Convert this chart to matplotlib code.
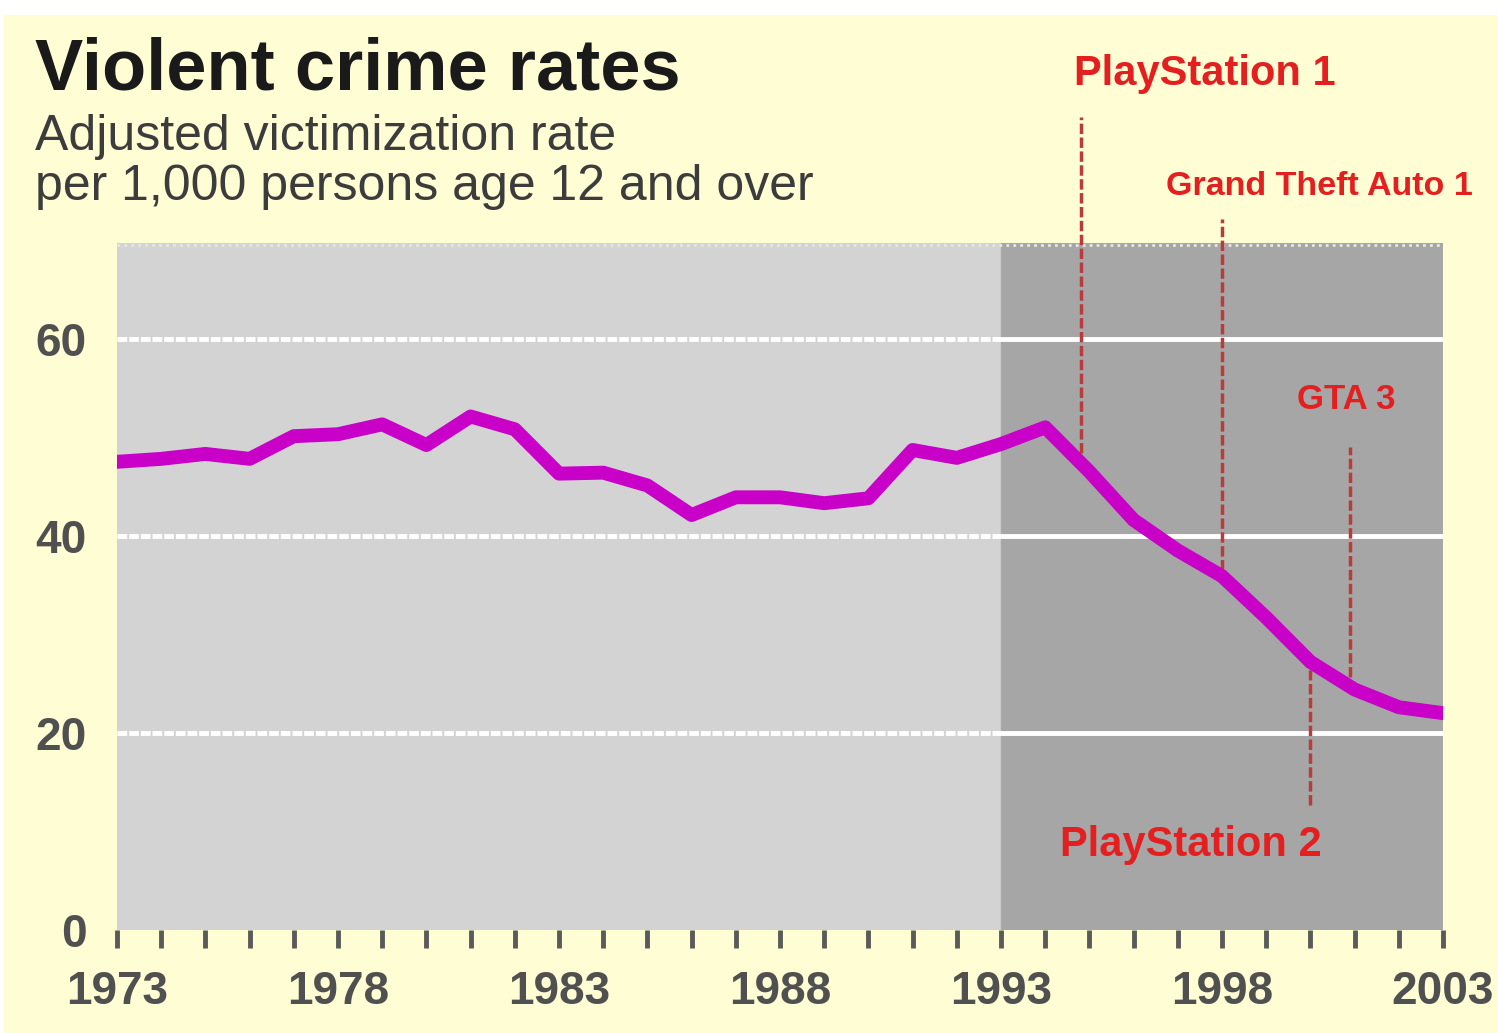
import matplotlib.pyplot as plt
from matplotlib.patches import Rectangle

# donnees
annees = list(range(1973, 2004))
taux = [47.5, 47.8, 48.3, 47.8, 50.1, 50.3, 51.3, 49.2, 52.1, 50.8, 46.3,
        46.4, 45.1, 42.1, 43.9, 43.9, 43.3, 43.8, 48.7, 47.9, 49.3, 51.0,
        46.5, 41.6, 38.5, 35.9, 31.7, 27.2, 24.4, 22.6, 22.0]

ticks_labels = [1973, 1978, 1983, 1988, 1993, 1998, 2003]
y_ticks = [0, 20, 40, 60]

# evenements : nom, annee de la ligne, haut, bas, position du texte, taille
evenements = [
    ("PlayStation 1", 1994.8, 82.5, 48.4, 1997.6, 86.8, 30),
    ("Grand Theft Auto 1", 1998.0, 72.1, 36.5, 2000.2, 75.4, 24.5),
    ("GTA 3", 2000.9, 49.0, 25.7, 2000.8, 53.8, 25),
    ("PlayStation 2", 2000.0, 26.4, 12.7, 1997.3, 8.6, 30),
]

jaune = "#fffdd3"
gris_clair = "#d3d3d3"
gris_fonce = "#a6a6a6"
rouge = "#e41f1f"
texte_gris = "#505050"
police = "Liberation Sans"

fig = plt.figure(figsize=(14.98, 10.33), dpi=100, facecolor="white")
fig.patches.append(Rectangle((0.003, 0), 0.997, 1 - 15 / 1033, transform=fig.transFigure,
                             facecolor=jaune, edgecolor="none", zorder=-10))

ax = fig.add_axes([117 / 1498, 1 - 930 / 1033, (1443 - 117) / 1498, (930 - 243) / 1033])
ax.set_facecolor(gris_clair)
ax.set_xlim(1973, 2003)
ax.set_ylim(0, 69.7)
for s in ax.spines.values():
    s.set_visible(False)

ax.axvspan(1993, 2003, color=gris_fonce, zorder=0)

# lignes de grille blanches
for y in [20, 40, 60]:
    ax.plot([1973, 1993], [y, y], color="white", lw=3.5, ls=(0, (2, 0.4)), zorder=1)
    ax.plot([1993, 2003], [y, y], color="white", lw=3.5, zorder=1)
ax.plot([1973, 2003], [69.5, 69.5], color="#e6e6e6", lw=2, ls=(0, (1, 1.5)), zorder=1)

ax.plot(annees, taux, color="#c800c8", lw=10, solid_joinstyle="round", zorder=3)

for nom, xl, haut, bas, xt, yt, taille in evenements:
    ax.plot([xl, xl], [bas, haut], color="#b83c3c", lw=2.5, ls=(0, (3, 1)),
            clip_on=False, zorder=2)
    ax.text(xt, yt, nom, color=rouge, fontsize=taille, fontweight="bold", ha="center",
            va="center", family=police, clip_on=False)

ax.set_xticks(ticks_labels)
ax.set_xticklabels([str(a) for a in ticks_labels])
ax.set_xticks(annees, minor=True)
ax.tick_params(axis="x", which="both", length=13, width=3.5, color="#5a5a5a", direction="out",
               pad=16, labelsize=33, labelcolor=texte_gris)
ax.set_yticks(y_ticks)
ax.set_yticklabels([str(v) for v in y_ticks])
ax.tick_params(axis="y", length=0, pad=22, labelsize=33, labelcolor=texte_gris)
for lab in ax.get_xticklabels() + ax.get_yticklabels():
    lab.set_family(police)
    lab.set_fontweight("bold")

fig.text(35 / 1498, 1 - 90 / 1033, "Violent crime rates", fontsize=52, fontweight="bold",
         color="#1a1a1a", va="baseline", family=police)
fig.text(35 / 1498, 1 - 150 / 1033, "Adjusted victimization rate", fontsize=36,
         color="#3c3c3c", va="baseline", family=police)
fig.text(35 / 1498, 1 - 200 / 1033, "per 1,000 persons age 12 and over", fontsize=36,
         color="#3c3c3c", va="baseline", family=police)

fig.savefig("out.png", dpi=100, facecolor=fig.get_facecolor())
